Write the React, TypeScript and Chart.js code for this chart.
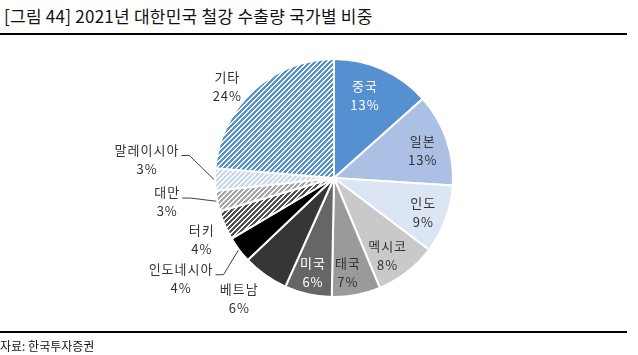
import React, { useEffect, useRef } from "react";
import { Chart, registerables } from "chart.js";

Chart.register(...registerables);

// ---- data ----
const categories = ["중국", "일본", "인도", "멕시코", "태국", "미국", "베트남", "인도네시아", "터키", "대만", "말레이시아", "기타"];
const shares = [13.4, 12.6, 9.3, 8.4, 6.6, 6.4, 6.2, 3.6, 4.0, 2.8, 3.0, 23.7];

const TITLE = "[그림 44] 2021년 대한민국 철강 수출량 국가별 비중";
const SOURCE = "자료: 한국투자증권";

// ---- styles ----
const FONT = '"Noto Sans CJK KR", "Noto Sans", sans-serif';

function hexToRgb(h: string): [number, number, number] {
  const n = parseInt(h.slice(1), 16);
  return [(n >> 16) & 255, (n >> 8) & 255, n & 255];
}

function stripe(color: string): CanvasPattern | string {
  const s = 5;
  const w = 3;
  const c = document.createElement("canvas");
  c.width = s;
  c.height = s;
  const g = c.getContext("2d");
  if (!g) return color;
  const img = g.createImageData(s, s);
  const [r, gg, b] = hexToRgb(color);
  for (let y = 0; y < s; y++) {
    for (let x = 0; x < s; x++) {
      const on = (x + y) % s < w;
      const o = (y * s + x) * 4;
      img.data[o] = on ? r : 255;
      img.data[o + 1] = on ? gg : 255;
      img.data[o + 2] = on ? b : 255;
      img.data[o + 3] = 255;
    }
  }
  g.putImageData(img, 0, 0);
  const p = g.createPattern(c, "repeat");
  return p || color;
}

// label placement: [radius factor of anchor, dx, dy] ; leader lines flag
const labelPlace: [number, number, number][] = [
  [0.74, -5, -2],
  [0.78, 1, 3],
  [0.8, 0, 1],
  [0.79, -4, 3],
  [0.8, -4, 1],
  [0.81, 0, 0],
  [1, -26, 23],
  [1, -58, 29],
  [1, -23, 14],
  [1, -50, 1],
  [1, -68, -20],
  [1, -26, -4],
];
const leader = [false, false, false, false, false, false, false, true, false, true, true, false];
const labelColor = ["#ffffff", "#333333", "#333333", "#333333", "#333333", "#ffffff", "#333333", "#333333", "#333333", "#333333", "#333333", "#333333"];

const labelPlugin = {
  id: "pieLabels",
  afterDatasetsDraw(chart: any) {
    const ctx = chart.ctx as CanvasRenderingContext2D;
    const meta = chart.getDatasetMeta(0);
    ctx.save();
    ctx.font = `13px ${FONT}`;
    (ctx as any).letterSpacing = "1px";
    ctx.textAlign = "center";
    ctx.textBaseline = "middle";
    meta.data.forEach((arc: any, i: number) => {
      const p = arc.getProps(["x", "y", "startAngle", "endAngle", "outerRadius"], true);
      const mid = (p.startAngle + p.endAngle) / 2;
      const [rf, dx, dy] = labelPlace[i];
      const ax = p.x + Math.cos(mid) * p.outerRadius * rf;
      const ay = p.y + Math.sin(mid) * p.outerRadius * rf;
      const cx = ax + dx;
      const cy = ay + dy;
      const l1 = categories[i];
      const l2 = Math.round(shares[i]) + "%";
      ctx.fillStyle = labelColor[i];
      ctx.fillText(l1, cx, cy - 9.5);
      ctx.fillText(l2, cx, cy + 9.5);
      if (leader[i]) {
        const w = ctx.measureText(l1).width;
        const right = cx + w / 2;
        const ly = cy - 4;
        const ex = p.x + Math.cos(mid) * (p.outerRadius + 1);
        const ey = p.y + Math.sin(mid) * (p.outerRadius + 1);
        ctx.strokeStyle = "#404040";
        ctx.lineWidth = 1;
        ctx.beginPath();
        ctx.moveTo(right + 2, ly);
        ctx.lineTo(right + 10, ly);
        ctx.lineTo(ex, ey);
        ctx.stroke();
      }
    });
    ctx.restore();
  },
};

export default function App() {
  const ref = useRef<HTMLCanvasElement | null>(null);
  useEffect(() => {
    if (!ref.current) return;
    const fills = [
      "#5590D0",
      "#ABC0E4",
      "#DCE5F4",
      "#C9C9C9",
      "#9A9A9A",
      "#666666",
      "#363636",
      "#000000",
      stripe("#505050"),
      stripe("#A6A6A6"),
      stripe("#C8D8F0"),
      stripe("#5590D0"),
    ];
    const chart = new Chart(ref.current, {
      type: "pie",
      data: {
        labels: categories,
        datasets: [
          {
            data: shares,
            backgroundColor: fills as any,
            borderColor: "#ffffff",
            borderWidth: 2,
          },
        ],
      },
      options: {
        responsive: false,
        animation: false,
        radius: 119,
        layout: { padding: { left: 30, top: 1, right: 0, bottom: 0 } },
        plugins: {
          legend: { display: false },
          tooltip: { enabled: false },
          title: { display: false },
        },
      } as any,
      plugins: [labelPlugin],
    });
    return () => chart.destroy();
  }, []);

  return (
    <div style={{ position: "absolute", left: 0, top: 0, width: 638, height: 355, background: "#fff", overflow: "hidden" }}>
      <div
        style={{
          position: "absolute",
          left: 4,
          top: 5,
          fontFamily: FONT,
          fontSize: 17,
          letterSpacing: "0.25px",
          lineHeight: "21px",
          color: "#111",
          whiteSpace: "nowrap",
        }}
      >
        {TITLE}
      </div>
      <div style={{ position: "absolute", left: 0, top: 33, width: 627, height: 2, background: "#000" }} />
      <canvas ref={ref} width={638} height={355} style={{ position: "absolute", left: 0, top: 0, width: 638, height: 355 }} />
      <div style={{ position: "absolute", left: 0, top: 331, width: 627, height: 2, background: "#000" }} />
      <div
        style={{
          position: "absolute",
          left: 0,
          top: 338,
          fontFamily: FONT,
          fontSize: 12,
          lineHeight: "16px",
          color: "#111",
          whiteSpace: "nowrap",
        }}
      >
        {SOURCE}
      </div>
    </div>
  );
}
